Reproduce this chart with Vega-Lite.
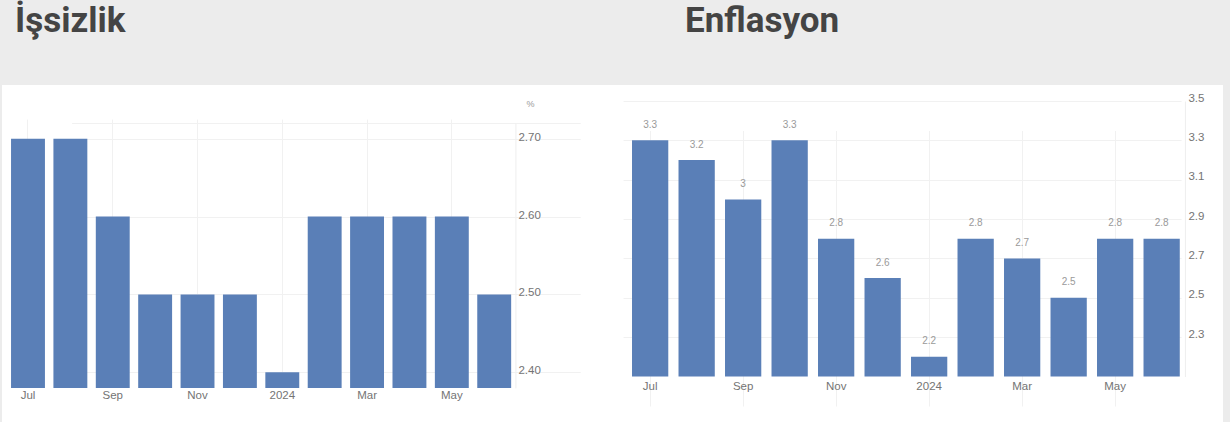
{
  "$schema": "https://vega.github.io/schema/vega-lite/v6.json",
  "background": "#ececec",
  "padding": {"left": 2, "right": 7, "top": 4, "bottom": 0},
  "spacing": 0,
  "config": {
    "view": {"fill": "white", "stroke": null},
    "font": "Liberation Sans",
    "title": {"font": "Roboto", "fontWeight": "bold", "fontSize": 35, "color": "#444444", "anchor": "start", "frame": "group", "baseline": "alphabetic", "offset": 46},
    "axis": {"labelFont": "Liberation Sans", "labelFontSize": 11.5, "labelColor": "#747474", "ticks": false, "gridColor": "#f1f1f1", "domainColor": "#eeeeee"}
  },
  "datasets": {
    "issizlik": [
      {"ay": "Jul", "deger": 2.7},
      {"ay": "Aug", "deger": 2.7},
      {"ay": "Sep", "deger": 2.6},
      {"ay": "Oct", "deger": 2.5},
      {"ay": "Nov", "deger": 2.5},
      {"ay": "Dec", "deger": 2.5},
      {"ay": "Jan", "deger": 2.4},
      {"ay": "Feb", "deger": 2.6},
      {"ay": "Mar", "deger": 2.6},
      {"ay": "Apr", "deger": 2.6},
      {"ay": "May", "deger": 2.6},
      {"ay": "Jun", "deger": 2.5}
    ],
    "enflasyon": [
      {"ay": "Jul", "deger": 3.3},
      {"ay": "Aug", "deger": 3.2},
      {"ay": "Sep", "deger": 3.0},
      {"ay": "Oct", "deger": 3.3},
      {"ay": "Nov", "deger": 2.8},
      {"ay": "Dec", "deger": 2.6},
      {"ay": "Jan", "deger": 2.2},
      {"ay": "Feb", "deger": 2.8},
      {"ay": "Mar", "deger": 2.7},
      {"ay": "Apr", "deger": 2.5},
      {"ay": "May", "deger": 2.8},
      {"ay": "Jun", "deger": 2.8}
    ]
  },
  "hconcat": [
    {
      "width": 583,
      "height": 337,
      "title": {"text": "İşsizlik", "dx": 13},
      "data": {"name": "issizlik"},
      "encoding": {
        "x": {
          "field": "ay", "type": "nominal", "sort": null,
          "scale": {"type": "band", "range": [4.8, 513.4], "paddingInner": 0.2, "paddingOuter": 0.1},
          "axis": {
            "orient": "bottom", "title": null,
            "values": ["Jul", "Sep", "Nov", "Jan", "Mar", "May"],
            "labelExpr": "datum.value == 'Jan' ? '2024' : datum.value",
            "bandPosition": 0.5, "grid": true, "domain": false,
            "labelPadding": 0, "labelBaseline": "middle", "labelAngle": 0, "offset": -27
          }
        },
        "y": {
          "field": "deger", "type": "quantitative",
          "scale": {"domain": [2.38, 2.72], "range": [302.9, 38.1], "zero": false, "nice": false},
          "axis": {
            "orient": "right",
            "values": [2.4, 2.5, 2.6, 2.7, 2.72],
            "labelExpr": "datum.value > 2.71 ? '' : format(datum.value, '.2f')",
            "grid": true, "domain": true, "offset": -69.6,
            "labelPadding": 2.5, "labelBaseline": "middle", "labelOffset": -1.5,
            "title": "%", "titleAngle": 0, "titleX": 14.6, "titleY": 18.3,
            "titleAlign": "center", "titleBaseline": "middle",
            "titleFont": "Liberation Sans", "titleFontSize": 9, "titleFontWeight": "normal", "titleColor": "#999999"
          }
        }
      },
      "layer": [
        {
          "mark": {"type": "bar", "color": "#5a7fb7"},
          "encoding": {"y2": {"datum": 2.38}}
        }
      ]
    },
    {
      "width": 638,
      "height": 337,
      "title": {"text": "Enflasyon", "dx": 100},
      "data": {"name": "enflasyon"},
      "encoding": {
        "x": {
          "field": "ay", "type": "nominal", "sort": null,
          "scale": {"type": "band", "range": [41.9, 599.9], "paddingInner": 0.22, "paddingOuter": 0.11},
          "axis": {
            "orient": "bottom", "title": null,
            "values": ["Jul", "Sep", "Nov", "Jan", "Mar", "May"],
            "labelExpr": "datum.value == 'Jan' ? '2024' : datum.value",
            "bandPosition": 0.5, "grid": true, "domain": false,
            "labelPadding": 0, "labelBaseline": "middle", "labelAngle": 0, "offset": -35.3
          }
        },
        "y": {
          "field": "deger", "type": "quantitative",
          "scale": {"domain": [2.1, 3.5], "range": [291.5, 16], "zero": false, "nice": false},
          "axis": {
            "orient": "right", "title": null,
            "values": [2.3, 2.5, 2.7, 2.9, 3.1, 3.3, 3.5],
            "format": ".1f",
            "grid": true, "domain": true, "offset": -38.1,
            "labelPadding": 3, "labelBaseline": "middle", "labelOffset": -3
          }
        }
      },
      "layer": [
        {
          "mark": {"type": "bar", "color": "#5a7fb7"},
          "encoding": {"y2": {"datum": 2.1}}
        },
        {
          "mark": {"type": "text", "font": "Liberation Sans", "fontSize": 10, "color": "#9a9a9a", "baseline": "middle", "dy": -15.5},
          "encoding": {"text": {"field": "deger", "type": "nominal"}}
        }
      ]
    }
  ]
}
